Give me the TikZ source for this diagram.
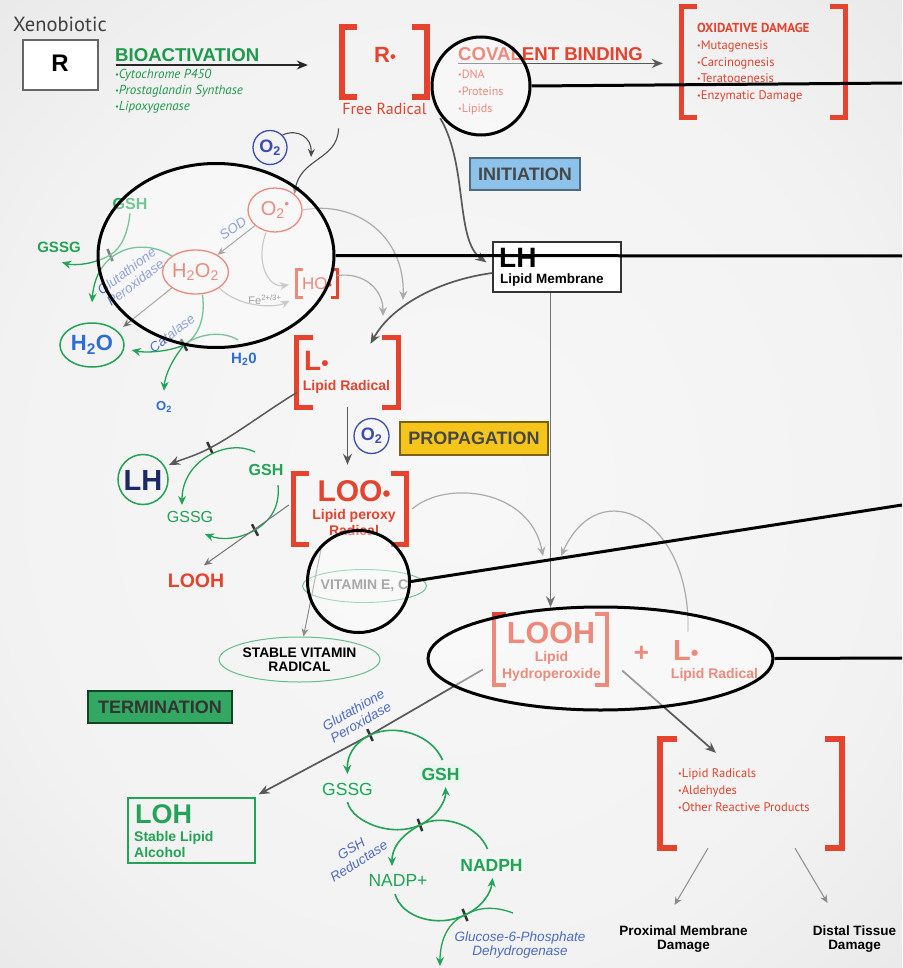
\documentclass[tikz,border=0pt]{standalone}
\usepackage{fontspec}
\setmainfont{Liberation Sans}
\newfontfamily\myriad{PT Sans}
\usetikzlibrary{arrows.meta, positioning, shapes.geometric}

\definecolor{radred}{HTML}{E5432D}
\definecolor{leafgreen}{HTML}{1D9A4C}
\definecolor{cyclegreen}{HTML}{22A355}
\definecolor{enzblue}{HTML}{4C6BC4}
\definecolor{oxblue}{HTML}{3A4DB3}
\definecolor{watblue}{HTML}{2E6DD8}
\definecolor{lhnavy}{HTML}{1B2A66}
\definecolor{initblue}{HTML}{8DC2EA}
\definecolor{propyellow}{HTML}{F6C51C}
\definecolor{termgreen}{HTML}{33A862}

\pgfdeclareradialshading{backdrop}{\pgfpoint{0bp}{0bp}}{color(0bp)=(black!3); color(25bp)=(black!5); color(50bp)=(black!13); color(72bp)=(black!17)}

\newcommand{\sz}[2]{\fontsize{#1}{#2}\selectfont}
\newcommand{\bul}{\raisebox{1pt}{\sz{8}{8}•}}
\newcommand{\rad}{\scalebox{0.75}{•}}
\newcommand{\drawbrackets}[3][5]{%
  \draw[bracket, line width=#1pt] ([xshift=#2pt]#3.north west) -- (#3.north west)
    -- (#3.south west) -- ([xshift=#2pt]#3.south west);
  \draw[bracket, line width=#1pt] ([xshift=-#2pt]#3.north east) -- (#3.north east)
    -- (#3.south east) -- ([xshift=-#2pt]#3.south east);}

\begin{document}
\begin{tikzpicture}[
    x=1pt, y=-1pt,
    every node/.style={inner sep=0pt},
    bracket/.style={draw=radred, line join=miter},
    stage/.style={draw=black!55, line width=1.2pt, minimum height=32pt, font=\bfseries\sz{18}{18}, text=black!72},
    header/.style={font=\bfseries\sz{18.6}{20}},
    listtxt/.style={font=\myriad\sz{12}{17}, align=left, anchor=north west},
    enzyme/.style={font=\itshape\sz{13.5}{14.5}, text=enzblue, align=center},
    tickmark/.style={fill=black!80, minimum width=2.5pt, minimum height=13pt},
    darkarrow/.style={draw=black!65, line width=1.7pt, -{Stealth[length=11pt, width=9pt]}},
    thinarrow/.style={draw=black!70, line width=1.1pt, -{Stealth[length=8pt, width=7pt]}},
    grayarrow/.style={draw=black!55, line width=1pt, -{Stealth[length=8pt, width=7pt]}},
    lightarrow/.style={draw=black!33, line width=1.2pt, -{Stealth[length=9pt, width=8pt]}},
    greenarrow/.style={draw=cyclegreen, line width=1.6pt, -{Stealth[length=9pt, width=8pt]}},
    greenline/.style={draw=cyclegreen, line width=1.3pt},
    lens/.style={draw=black, line width=3pt, fill=white, fill opacity=0.38},
    callout/.style={draw=black, line width=3pt}
]
    \useasboundingbox (0,0) rectangle (902,968);
    \shade[shading=backdrop] (0,0) rectangle (902,968);

    \node[anchor=base, font=\myriad\sz{20.5}{20.5}, text=black!75] (xeno) at (60,31.5) {Xenobiotic};
    \node[draw=black!60, line width=1.5pt, fill=white, minimum width=75pt, minimum height=50pt] (xbox) at (60.5,65) {};
    \node[anchor=base, font=\bfseries\sz{24}{24}] (xsym) at (60,72) {R};
    \node[header, text=leafgreen, anchor=base west] (bioact) at (115,61.5) {BIOACTIVATION};
    \node[listtxt, font=\myriad\itshape\sz{13}{16}, text=leafgreen] (bioenz) at (115,69) {\bul Cytochrome P450\\\bul Prostaglandin Synthase\\\bul Lipoxygenase};

    \node[minimum width=85pt, minimum height=70pt] (Rdot) at (384.5,62) {};
    \node[anchor=base, text=radred, font=\bfseries\sz{22}{22}] (Rsym) at (385,63) {R\rad};
    \node[anchor=base, text=radred, font=\myriad\sz{16}{16}] (freerad) at (384.5,115) {Free Radical};

    \node[header, text=radred, anchor=base west] (covalent) at (458,61) {COVALENT BINDING};
    \node[listtxt, text=radred] (targets) at (458,70) {\bul DNA\\\bul Proteins\\\bul Lipids};
    \node[minimum width=163pt, minimum height=110pt] (oxid) at (763.5,62) {};
    \node[listtxt, text=radred, font=\myriad\sz{12.5}{16.8}] (oxlist) at (697,23) {{\bfseries\sz{13}{16.8}OXIDATIVE DAMAGE}\\\bul Mutagenesis\\\bul Carcinognesis\\\bul Teratogenesis\\\bul Enzymatic Damage};

    \node[circle, draw=oxblue, line width=1.3pt, minimum size=34pt, text=oxblue, font=\bfseries\sz{18}{18}] (oxA) at (270,147.5) {O\textsubscript{2}};
    \node[ellipse, draw=radred, line width=1.3pt, minimum width=54pt, minimum height=44pt, text=radred, font=\sz{20}{20}] (superox) at (275,210) {O\textsubscript{2}\raisebox{7pt}{\sz{13}{13}•}};
    \node[ellipse, draw=radred, line width=1.3pt, minimum width=63pt, minimum height=44pt, text=radred, font=\sz{20}{20}] (hperox) at (195.5,272) {H\textsubscript{2}O\textsubscript{2}};
    \node[minimum width=40pt, minimum height=27pt] (hydroxyl) at (317,283.5) {};
    \node[text=radred, font=\sz{17}{17}] (hosym) at (317,284) {HO\rad};
    \node[text=black!60, font=\sz{11}{11}] (fe) at (265,300) {Fe\textsuperscript{2+/3+}};
    \node[enzyme, rotate=35] (sod) at (233,228) {SOD};

    \node[anchor=base, text=cyclegreen, font=\bfseries\sz{16}{16}] (gshA) at (130,210) {GSH};
    \node[anchor=base, text=cyclegreen, font=\bfseries\sz{15}{15}] (gssgA) at (59,252) {GSSG};
    \node[tickmark, rotate=23] (tA) at (110,255) {};
    \node[enzyme, rotate=37] (gpxA) at (131,277) {Glutathione\\Peroxidase};
    \node[ellipse, draw=cyclegreen, line width=1.5pt, minimum width=64pt, minimum height=44pt, text=watblue, font=\bfseries\sz{22}{22}] (water) at (92,345) {H\textsubscript{2}O};
    \node[tickmark, rotate=28] (tB) at (184,345) {};
    \node[enzyme, rotate=38] (cat) at (172,333) {Catalase};
    \node[anchor=base, text=watblue, font=\bfseries\sz{15}{15}] (h2oB) at (244,363) {H\textsubscript{2}0};
    \node[anchor=base, text=watblue, font=\bfseries\sz{13}{13}] (o2B) at (164,410) {O\textsubscript{2}};

    \node[stage, draw=black!45!initblue, fill=initblue, minimum width=110pt] (init) at (525,174) {INITIATION};
    \node[draw=black!80, line width=1.3pt, fill=white, minimum width=128pt, minimum height=50pt] (LH) at (557,267) {};
    \node[anchor=base west, font=\bfseries\sz{28}{28}] (LHsym) at (499,267) {LH};
    \node[anchor=base west, font=\bfseries\sz{13.5}{13.5}] (LHname) at (500,283) {Lipid Membrane};

    \node[minimum width=101pt, minimum height=69pt] (Lrad) at (347.5,372.5) {};
    \node[anchor=base west, text=radred, font=\bfseries\sz{28}{28}] (Lsym) at (304,370) {L\rad};
    \node[anchor=base, text=radred, font=\bfseries\sz{14}{14}] (Lname) at (346.5,390) {Lipid Radical};
    \node[circle, draw=oxblue, line width=1.3pt, minimum size=35pt, text=oxblue, font=\bfseries\sz{18}{18}] (oxB) at (371.5,436) {O\textsubscript{2}};
    \node[stage, draw=black!50!propyellow, fill=propyellow, minimum width=148pt, minimum height=33pt] (prop) at (474,438.5) {PROPAGATION};

    \node[circle, draw=cyclegreen, line width=1.5pt, minimum size=50pt] (LHc) at (143,479.5) {};
    \node[anchor=base, text=lhnavy, font=\bfseries\sz{29}{29}] (LHcsym) at (143,490) {LH};
    \node[tickmark, rotate=25] (tC) at (210,448) {};
    \node[anchor=base, text=cyclegreen, font=\bfseries\sz{16}{16}] (gshB) at (266,475) {GSH};
    \node[anchor=base, text=cyclegreen, font=\sz{16}{16}] (gssgB) at (190,522) {GSSG};
    \node[tickmark, rotate=28] (tD) at (255,530) {};
    \node[anchor=base, text=radred, font=\bfseries\sz{19.5}{19.5}] (loohL) at (196,587) {LOOH};

    \node[minimum width=112pt, minimum height=70pt] (LOOr) at (350,509) {};
    \node[anchor=base, text=radred, font=\bfseries\sz{30}{30}] (LOOsym) at (354,501) {LOO\rad};
    \node[anchor=north, align=center, text=radred, font=\bfseries\sz{14}{16.5}] (LOOname) at (354,509) {Lipid peroxy\\Radical};
    \node[ellipse, draw=cyclegreen!70, line width=0.9pt, minimum width=107pt, minimum height=33pt, font=\bfseries\sz{14}{14}, text=black!55] (vitEC) at (364.5,586) {VITAMIN E, C};
    \node[ellipse, draw=cyclegreen!70, line width=1pt, minimum width=149pt, minimum height=45pt, align=center, font=\bfseries\sz{13.8}{13.5}] (stable) at (299.5,659.5) {STABLE VITAMIN\\RADICAL};

    \node[minimum width=113pt, minimum height=70pt] (LOOH) at (550.5,649.5) {};
    \node[anchor=base, text=radred, font=\bfseries\sz{30.5}{30.5}] (LOOHsym) at (551,643) {LOOH};
    \node[anchor=north, align=center, text=radred, font=\bfseries\sz{14}{17}] (LOOHname) at (551.5,651) {Lipid\\Hydroperoxide};
    \node[text=radred, font=\bfseries\sz{26}{26}] (plus) at (641.5,653.5) {+};
    \node[anchor=base west, text=radred, font=\bfseries\sz{29}{29}] (Lright) at (673,660) {L\rad};
    \node[anchor=base, text=radred, font=\bfseries\sz{14}{14}] (Lrightname) at (714.5,678) {Lipid Radical};

    \node[stage, draw=black!60!termgreen, fill=termgreen, minimum width=144pt, text=black!80] (term) at (160,707) {TERMINATION};
    \node[draw=cyclegreen, line width=1.3pt, minimum width=127pt, minimum height=65pt] (LOH) at (191.5,830.5) {};
    \node[anchor=base west, text=cyclegreen, font=\bfseries\sz{27}{27}] (LOHsym) at (135,823) {LOH};
    \node[anchor=north west, align=left, text=cyclegreen, font=\bfseries\sz{14}{16}] (LOHname) at (134,831) {Stable Lipid\\Alcohol};

    \node[tickmark, rotate=25] (tE) at (370,735) {};
    \node[enzyme, rotate=30] (gpxB) at (357,716) {Glutathione\\Peroxidase};
    \node[anchor=base, text=cyclegreen, font=\sz{17.5}{17.5}, fill=cyclegreen!7, inner sep=2pt] (gssgC) at (347.5,795) {GSSG};
    \node[anchor=base, text=cyclegreen, font=\bfseries\sz{17.5}{17.5}, fill=cyclegreen!10, inner sep=3pt] (gshC) at (440.5,780) {GSH};
    \node[tickmark, rotate=20] (tF) at (420,825) {};
    \node[enzyme, rotate=32] (gred) at (355,855) {GSH\\Reductase};
    \node[anchor=base, text=cyclegreen, font=\sz{17.5}{17.5}] (nadp) at (398,886) {NADP+};
    \node[anchor=base, text=cyclegreen, font=\bfseries\sz{17.5}{17.5}, fill=cyclegreen!7, inner sep=2pt] (nadph) at (491.5,871) {NADPH};
    \node[tickmark, rotate=22] (tG) at (465,915) {};
    \node[enzyme] (g6pd) at (520,945) {Glucose-6-Phosphate\\Dehydrogenase};

    \node[minimum width=182pt, minimum height=109pt] (dmg) at (751,793.5) {};
    \node[listtxt, text=radred, font=\myriad\sz{12.5}{17}] (dmglist) at (678,768) {\bul Lipid Radicals\\\bul Aldehydes\\\bul Other Reactive Products};
    \node[anchor=north, align=center, font=\bfseries\sz{13.5}{13.5}] (prox) at (683.5,926) {Proximal Membrane\\Damage};
    \node[anchor=north, align=center, font=\bfseries\sz{13.5}{13.5}] (distal) at (854.5,926) {Distal Tissue\\Damage};

    \drawbrackets[5.5]{15}{Rdot}
    \drawbrackets[5]{15}{oxid}
    \drawbrackets[3]{6}{hydroxyl}
    \drawbrackets[5]{16}{Lrad}
    \drawbrackets[5]{15}{LOOr}
    \drawbrackets[4]{12}{LOOH}
    \drawbrackets[5.5]{17}{dmg}

    \coordinate (covline) at ([yshift=-2pt]covalent.south west);
    \coordinate (o2join) at (311,157);
    \coordinate (LradInA) at (403,300);
    \coordinate (LradInB) at (383,316);
    \coordinate (loohInL) at (543,556);
    \coordinate (loohInR) at (561,556);
    \coordinate (g6in) at (513,913);
    \coordinate (g6out) at (440,966);

    \draw[darkarrow, draw=black!85, line width=1.5pt, shorten <=17pt, shorten >=34pt] (xbox.east) -- (xbox.east -| Rdot.west);
    \draw[darkarrow, line width=1.5pt, shorten >=19pt] (covline) -- (covline -| oxid.west);
    \draw[thinarrow] ([shift={(-46,13)}]freerad.south) .. controls (338,160) and (300,158) .. (superox.north east);
    \draw[thinarrow] (oxA.north east) .. controls (298,128) and (312,138) .. (o2join);
    \draw[darkarrow] ([shift={(13,21)}]Rdot.south east) .. controls (468,165) and (455,240) .. ([shift={(-6,21)}]LH.north west);

    \draw[grayarrow] (superox) -- (hperox);
    \draw[lightarrow, shorten >=8pt] ([xshift=-9pt]superox.south) .. controls (255,262) and (268,288) .. (hydroxyl.west);
    \draw[lightarrow, shorten >=8pt] (hperox.south east) .. controls (240,308) and (275,308) .. (hydroxyl.south west);
    \draw[lightarrow] (superox.east) .. controls (355,200) and (405,235) .. (LradInA);
    \draw[lightarrow] ([yshift=8pt]hydroxyl.east) .. controls (365,272) and (383,290) .. (LradInB);
    \draw[darkarrow] ([yshift=-6pt]LH.west) .. controls (440,280) and (392,305) .. ([shift={(23,6)}]Lrad.north);

    \draw[greenarrow, line width=1.3pt] ([yshift=-3pt]gshA.south) .. controls (128,232) and (122,248) .. (tA.center) .. controls (95,264) and (75,266) .. ([shift={(3,10)}]gssgA.south);
    \draw[greenarrow, line width=1.3pt] (hperox.north west) .. controls (140,236) and (96,250) .. ([yshift=20pt]water.north);
    \draw[grayarrow] (hperox.south west) -- ([shift={(8,-2)}]water.north east);
    \draw[greenline] ([xshift=7pt]hperox.south) .. controls (206,322) and (196,338) .. (tB.center);
    \draw[greenline] ([shift={(-6,-23)}]h2oB.base) .. controls (222,330) and (198,334) .. (tB.center);
    \draw[greenarrow, line width=1.3pt] (tB.center) .. controls (168,352) and (145,353) .. ([shift={(7,5)}]water.east);
    \draw[greenarrow, line width=1.3pt] (tB.center) .. controls (172,360) and (165,375) .. ([yshift=10pt]o2B.north);

    \draw[darkarrow, draw=black!55, shorten >=7pt] (LOOH.north |- LH.south) -- (LOOH.north);
    \draw[darkarrow, shorten >=9pt] (Lrad.south) -- (Lrad.south |- LOOr.north);
    \draw[darkarrow, line width=1.5pt, shorten >=4pt] ([yshift=-20pt]Lrad.west) .. controls (265,412) and (235,435) .. (tC.center) .. controls (195,456) and (180,460) .. (LHc.30);
    \draw[greenarrow, line width=1.3pt] ([shift={(-11,-23)}]gshB.base) .. controls (228,438) and (182,460) .. ([shift={(-8,-17)}]gssgB.base);
    \draw[greenarrow, line width=1.3pt] ([shift={(12,10)}]gshB.base) .. controls (280,505) and (272,520) .. (tD.center) .. controls (238,540) and (220,540) .. ([shift={(15,12)}]gssgB.base);
    \draw[grayarrow] ([shift={(-5,-4)}]LOOr.west) -- ([shift={(8,-8)}]loohL.north);
    \draw[grayarrow, draw=black!45] ([xshift=-28pt]LOOr.south) -- ([xshift=4pt]stable.north);
    \draw[lightarrow] ([xshift=6pt]LOOr.east) .. controls (445,480) and (530,488) .. (loohInL);
    \draw[lightarrow] ([shift={(2,-8)}]Lright.north) .. controls (692,520) and (600,470) .. (loohInR);

    \draw[darkarrow] ([shift={(-11,20)}]LOOH.west) -- (tE.center) -- ([shift={(3,-3)}]LOH.north east);
    \draw[darkarrow] ([shift={(15,21)}]LOOH.east) -- ([shift={(-35,14)}]dmg.north);
    \draw[greenarrow] ([shift={(2,-20)}]gshC.base) .. controls (432,735) and (396,723) .. (tE.center) .. controls (352,744) and (347,758) .. ([shift={(0,-21)}]gssgC.base);
    \draw[greenarrow] ([shift={(0,7)}]gssgC.base) .. controls (352,822) and (392,838) .. (tF.center) .. controls (438,816) and (446,800) .. ([shift={(5,7)}]gshC.base);
    \draw[greenarrow] ([shift={(-4,-22)}]nadph.base) .. controls (478,825) and (442,813) .. (tF.center) .. controls (398,837) and (392,850) .. ([shift={(-6,-20)}]nadp.base);
    \draw[greenarrow] ([shift={(-3,8)}]nadp.base) .. controls (402,918) and (438,928) .. (tG.center) .. controls (482,907) and (491,893) .. ([shift={(1,7)}]nadph.base);
    \draw[greenarrow, line width=1.3pt] (g6in) .. controls (495,906) and (478,907) .. (tG.center) .. controls (448,922) and (440,940) .. (g6out);
    \draw[grayarrow, draw=black!45] ([xshift=-43pt]dmg.south) -- ([shift={(-9,-21)}]prox.north);
    \draw[grayarrow, draw=black!45] ([xshift=44pt]dmg.south) -- ([shift={(-27,-23)}]distal.north);

    \node[lens, circle, minimum size=98pt] (lensA) at (481,86) {};
    \node[lens, ellipse, minimum width=236pt, minimum height=184pt] (lensB) at (216,255.5) {};
    \node[lens, circle, minimum size=102pt] (lensC) at (358.5,581.5) {};
    \node[lens, ellipse, minimum width=345pt, minimum height=103pt] (lensD) at (600.5,658.5) {};
    \coordinate (edgeA) at (902,83);
    \coordinate (edgeB) at (902,256);
    \coordinate (edgeC) at (902,505);
    \coordinate (edgeD) at (902,658);
    \draw[callout] (lensA.east) -- (edgeA);
    \draw[callout] (lensB.east) -- (edgeB);
    \draw[callout] (lensC.east) -- (edgeC);
    \draw[callout] (lensD.east) -- (edgeD);
\end{tikzpicture}
\end{document}
